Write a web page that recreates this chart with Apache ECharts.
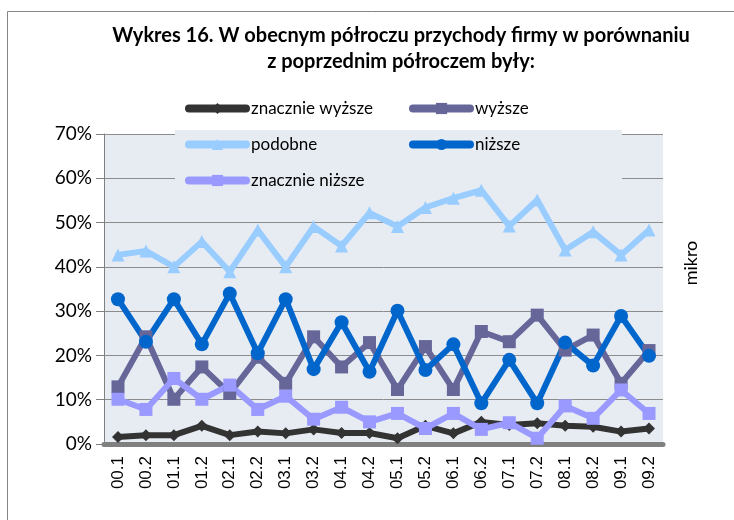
<!DOCTYPE html>
<html>
<head>
<meta charset="utf-8">
<script src="https://cdn.jsdelivr.net/npm/echarts@6/dist/echarts.min.js"></script>
<style>
  html, body { margin: 0; padding: 0; background: #fff; }
  #chart { width: 734px; height: 520px; }
</style>
</head>
<body>
<div id="chart"></div>
<script>
// kategorie (półrocza)
var categories = ['00.1', '00.2', '01.1', '01.2', '02.1', '02.2', '03.1', '03.2', '04.1', '04.2',
                  '05.1', '05.2', '06.1', '06.2', '07.1', '07.2', '08.1', '08.2', '09.1', '09.2'];

// wartości w %
var znacznieWyzsze = [1.6, 2.0, 2.0, 4.1, 2.0, 2.8, 2.4, 3.3, 2.5, 2.5, 1.3, 4.1, 2.4, 5.0, 4.3, 4.7, 4.1, 3.9, 2.8, 3.5];
var wyzsze         = [12.9, 24.2, 10.1, 17.4, 11.4, 19.6, 13.7, 24.2, 17.4, 22.9, 12.3, 22.0, 12.3, 25.4, 23.1, 29.1, 21.2, 24.6, 13.7, 21.1];
var podobne        = [42.7, 43.6, 40.0, 45.7, 38.9, 48.3, 40.0, 49.1, 44.7, 52.2, 49.1, 53.4, 55.5, 57.3, 49.2, 55.1, 43.8, 47.9, 42.7, 48.3];
var nizsze         = [32.7, 23.1, 32.7, 22.5, 34.0, 20.5, 32.7, 16.9, 27.5, 16.3, 30.1, 16.7, 22.5, 9.2, 19.0, 9.2, 22.9, 17.7, 28.9, 19.9];
var znacznieNizsze = [10.1, 7.8, 14.8, 10.1, 13.3, 7.8, 10.8, 5.6, 8.3, 5.0, 6.9, 3.5, 6.9, 3.3, 4.8, 1.3, 8.6, 5.8, 12.2, 6.9];

var names = ['znacznie wyższe', 'wyższe', 'podobne', 'niższe', 'znacznie niższe'];
var yTicks = { min: 0, max: 70, step: 10 };

var plotBg = '#e7ecf3';

function line(name, data, color, symbol, size) {
    return {
        name: name,
        type: 'line',
        data: data,
        symbol: symbol,
        symbolSize: size,
        showSymbol: true,
        lineStyle: { width: 6, color: color, cap: 'round', join: 'round' },
        itemStyle: { color: color, borderWidth: 0 },
        emphasis: { disabled: true }
    };
}

var legendText = { fontFamily: 'Lato', fontSize: 17, color: '#000', lineHeight: 17 };

var myChart = echarts.init(document.getElementById('chart'));

option = {
    animation: false,
    title: {
        text: 'Wykres 16. W obecnym półroczu przychody firmy w porównaniu\nz poprzednim półroczem były:',
        left: 396,
        top: 18,
        textAlign: 'center',
        textStyle: { fontFamily: 'Lato', fontWeight: 'bold', fontSize: 20, lineHeight: 26, color: '#000' }
    },
    legend: [{
        orient: 'vertical',
        left: 185,
        top: 100,
        padding: 0,
        itemWidth: 57,
        itemHeight: 14,
        itemGap: 19,
        data: [names[0], names[2], names[4]],
        lineStyle: { width: 8, cap: 'round' },
        textStyle: legendText
    }, {
        orient: 'vertical',
        left: 409,
        top: 100,
        padding: 0,
        itemWidth: 57,
        itemHeight: 14,
        itemGap: 19,
        data: [names[1], names[3]],
        lineStyle: { width: 8, cap: 'round' },
        textStyle: legendText
    }],
    grid: {
        left: 104, right: 71, top: 134, bottom: 76,
        show: true, backgroundColor: plotBg, borderWidth: 0
    },
    xAxis: {
        type: 'category',
        data: categories,
        boundaryGap: true,
        axisLine: { lineStyle: { color: '#808080', width: 5, cap: 'round' } },
        axisTick: { length: 7, lineStyle: { color: '#808080', width: 4, cap: 'round' } },
        axisLabel: { rotate: 90, interval: 0, margin: 12, fontFamily: 'Liberation Sans', fontSize: 17, color: '#000' }
    },
    yAxis: {
        type: 'value',
        min: yTicks.min, max: yTicks.max, interval: yTicks.step,
        axisLine: { show: true, lineStyle: { color: '#808080', width: 1 } },
        axisTick: { show: true, length: 8, lineStyle: { color: '#808080' } },
        axisLabel: { formatter: '{value}%', margin: 12, fontFamily: 'Lato', fontSize: 19, color: '#000' },
        splitLine: { lineStyle: { color: '#8c8c8c', width: 1 } }
    },
    graphic: [{
        type: 'rect',
        shape: { x: 7.5, y: 11.5, width: 1000, height: 1000 },
        style: { fill: 'none', stroke: '#868686', lineWidth: 1 },
        silent: true
    }, {
        // tło legendy zasłania linie siatki
        type: 'rect',
        z: 1,
        shape: { x: 175, y: 130, width: 447, height: 66 },
        style: { fill: plotBg },
        silent: true
    }, {
        type: 'text',
        x: 691,
        y: 263,
        rotation: Math.PI / 2,
        style: { text: 'mikro', fontFamily: 'Lato', fontSize: 18, fill: '#000', align: 'center', verticalAlign: 'middle' }
    }],
    series: [
        line(names[0], znacznieWyzsze, '#333333', 'diamond', 12),
        line(names[1], wyzsze, '#666699', 'rect', 13),
        line(names[2], podobne, '#99ccff', 'triangle', 13),
        line(names[3], nizsze, '#0066cc', 'circle', 14),
        line(names[4], znacznieNizsze, '#9999ff', 'rect', 13)
    ]
};

myChart.setOption(option);
</script>
</body>
</html>
